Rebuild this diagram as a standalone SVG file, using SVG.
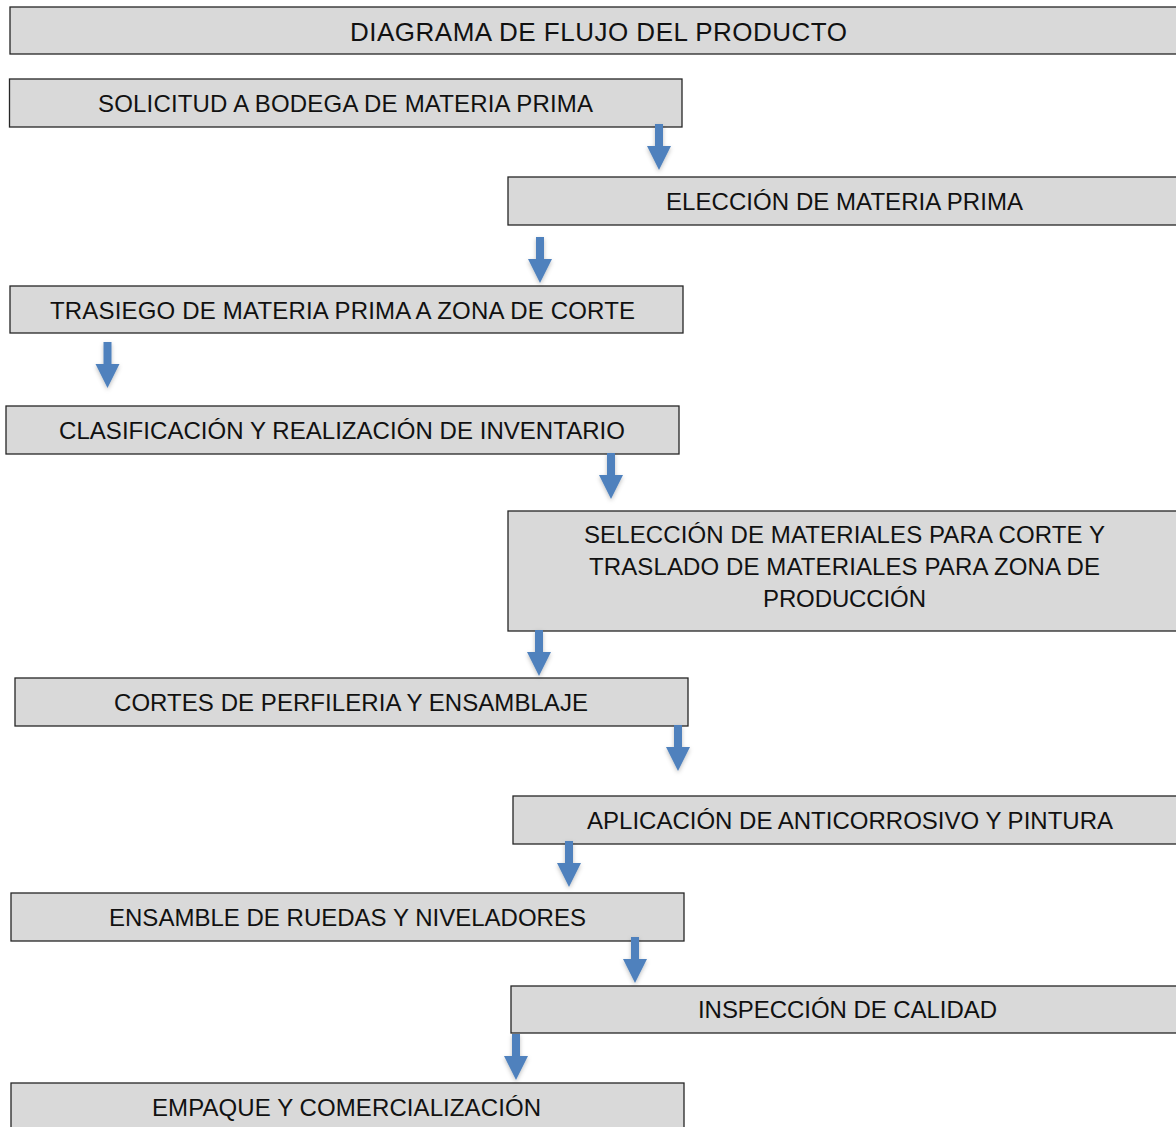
<svg xmlns="http://www.w3.org/2000/svg" width="1176" height="1127" viewBox="0 0 1176 1127">
<style>
.box{fill:#d9d9d9;stroke:#262626;stroke-width:1.3}
.t{font-family:"Liberation Sans",Arial,sans-serif;font-size:24px;fill:#111;text-anchor:middle}
.tt{font-size:26px}
.arr{fill:#4f81bd;filter:url(#sh)}
</style>
<defs>
<filter id="sh" x="-50%" y="-20%" width="200%" height="150%">
<feDropShadow dx="0" dy="2" stdDeviation="2" flood-color="#000" flood-opacity="0.25"/>
</filter>
<path id="ar" d="M-4,0 H4 V22 H12 L0,46 L-12,22 H-4 Z"/>
</defs>
<rect width="1176" height="1127" fill="#fff"/>
<g id="title"><rect class="box" x="10" y="7" width="1180" height="47"/><text class="t tt" x="598.5" y="41" textLength="497" lengthAdjust="spacing">DIAGRAMA DE FLUJO DEL PRODUCTO</text></g>
<g id="n1"><rect class="box" x="9.5" y="79" width="672.5" height="48"/><text class="t" x="345.5" y="112" textLength="495" lengthAdjust="spacing">SOLICITUD A BODEGA DE MATERIA PRIMA</text></g>
<g id="n2"><rect class="box" x="508" y="177" width="680" height="48"/><text class="t" x="844.5" y="210" textLength="357" lengthAdjust="spacing">ELECCIÓN DE MATERIA PRIMA</text></g>
<g id="n3"><rect class="box" x="10" y="286" width="673" height="47"/><text class="t" x="342.5" y="319" textLength="585" lengthAdjust="spacing">TRASIEGO DE MATERIA PRIMA A ZONA DE CORTE</text></g>
<g id="n4"><rect class="box" x="6" y="406" width="673" height="48"/><text class="t" x="342" y="439" textLength="566" lengthAdjust="spacing">CLASIFICACIÓN Y REALIZACIÓN DE INVENTARIO</text></g>
<g id="n5"><rect class="box" x="508" y="511" width="680" height="120"/><text class="t" x="844.5" y="543" textLength="521" lengthAdjust="spacing">SELECCIÓN DE MATERIALES PARA CORTE Y</text><text class="t" x="844.5" y="575" textLength="511" lengthAdjust="spacing">TRASLADO DE MATERIALES PARA ZONA DE</text><text class="t" x="844.5" y="607" textLength="163" lengthAdjust="spacing">PRODUCCIÓN</text></g>
<g id="n6"><rect class="box" x="15" y="678" width="673" height="48"/><text class="t" x="351" y="711" textLength="474" lengthAdjust="spacing">CORTES DE PERFILERIA Y ENSAMBLAJE</text></g>
<g id="n7"><rect class="box" x="513" y="796" width="680" height="48"/><text class="t" x="850" y="829" textLength="526" lengthAdjust="spacing">APLICACIÓN DE ANTICORROSIVO Y PINTURA</text></g>
<g id="n8"><rect class="box" x="11" y="893" width="673" height="48"/><text class="t" x="347.5" y="926" textLength="477" lengthAdjust="spacing">ENSAMBLE DE RUEDAS Y NIVELADORES</text></g>
<g id="n9"><rect class="box" x="511" y="986" width="680" height="47"/><text class="t" x="847.5" y="1018" textLength="299" lengthAdjust="spacing">INSPECCIÓN DE CALIDAD</text></g>
<g id="n10"><rect class="box" x="11" y="1083" width="673" height="60"/><text class="t" x="346.5" y="1116" textLength="389" lengthAdjust="spacing">EMPAQUE Y COMERCIALIZACIÓN</text></g>
<g id="connectors">
<use class="arr" href="#ar" x="659" y="124"/>
<use class="arr" href="#ar" x="540" y="237"/>
<use class="arr" href="#ar" x="107.5" y="342"/>
<use class="arr" href="#ar" x="611" y="453"/>
<use class="arr" href="#ar" x="539" y="630"/>
<use class="arr" href="#ar" x="678" y="725"/>
<use class="arr" href="#ar" x="569" y="841"/>
<use class="arr" href="#ar" x="635" y="937"/>
<use class="arr" href="#ar" x="516" y="1034"/>
</g>
</svg>
